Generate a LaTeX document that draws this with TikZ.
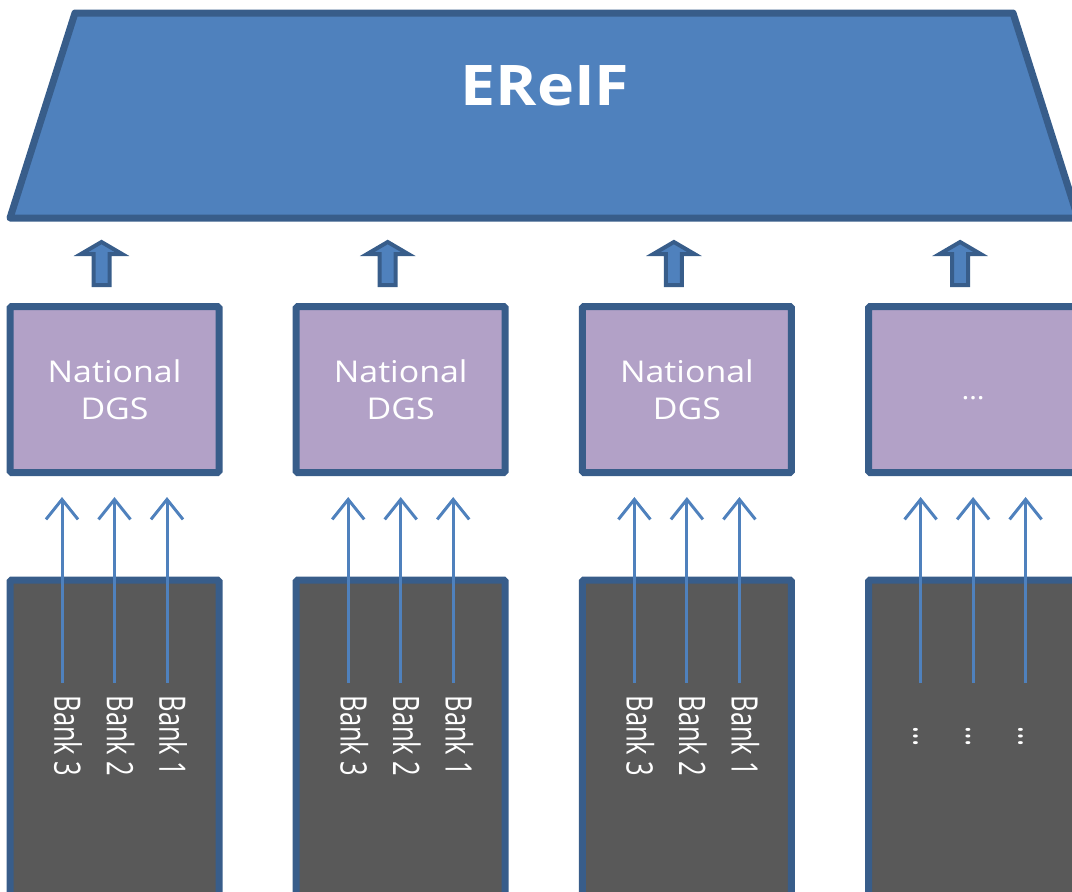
\documentclass[tikz,border=0pt]{standalone}
\usepackage{fontspec}
\setmainfont{Open Sans}
\usepackage{graphicx}
\usetikzlibrary{arrows.meta}
\definecolor{fillblue}{HTML}{4F81BD}
\definecolor{edgeblue}{HTML}{385D8A}
\definecolor{lav}{HTML}{B2A1C7}
\definecolor{bankgray}{HTML}{595959}
\newcommand{\dgstext}{\raisebox{-4pt}[\height][\depth]{\scalebox{1.13}[1]{\begin{tabular}{@{}c@{}}National\\DGS\end{tabular}}}}
\newcommand{\banktext}[1]{\scalebox{1}[1.43]{#1}}
\begin{document}
\begin{tikzpicture}[x=1pt,y=-1pt,
  trapstyle/.style={fill=fillblue,draw=edgeblue,line width=7pt,line join=round},
  dgsbox/.style={rectangle,fill=lav,draw=edgeblue,line width=7pt,minimum width=209pt,minimum height=166pt,inner sep=0pt,rounded corners=1.5pt,text=white,font=\fontsize{30}{37}\selectfont},
  bankbox/.style={rectangle,fill=bankgray,draw=edgeblue,line width=7pt,minimum width=209pt,minimum height=420pt,inner sep=0pt,rounded corners=1.5pt},
  banklbl/.style={rotate=-90,text=white,inner sep=0pt,font=\fontsize{25.5}{30}\selectfont},
  thinarrow/.style={draw=fillblue,line width=3pt,-{Straight Barb[length=20pt,width=32pt]}},
  thickarrow/.style={fill=fillblue,draw=edgeblue,line width=4pt,line join=miter}
]
\path[use as bounding box] (0,0) rectangle (1072,892);
\clip (0,0) rectangle (1072,892);

% top trapezoid
\draw[trapstyle] (75,13) -- (1013,13) -- (1078,218) -- (10,218) -- cycle;
\node[text=white,anchor=base,inner sep=0pt,font=\bfseries\fontsize{56}{60}\selectfont] (ereif) at (545,105) {\scalebox{1.12}[1]{EReIF}};

% columns
\foreach \i in {0,1,2,3}{
  \pgfmathsetmacro\cx{114.5+286.2*\i}
  % thick arrow
  \draw[thickarrow] (\cx-13,242) -- (\cx+7.5,254) -- (\cx-5,254) -- (\cx-5,285) -- (\cx-21,285) -- (\cx-21,254) -- (\cx-33.5,254) -- cycle;
  % bank box
  \node[bankbox] (bk\i) at (\cx,790) {};
  % thin arrows
  \foreach \j in {0,1,2}{
    \pgfmathsetmacro\ax{\cx-52.5+52.5*\j}
    \coordinate (s\i\j) at (\ax,683);
    \coordinate (e\i\j) at (\ax,497);
    \draw[thinarrow] (s\i\j) -- (e\i\j);
  }
}

% national boxes
\node[dgsbox] (dgs0) at (114.5,389.5) {\dgstext};
\node[dgsbox] (dgs1) at (400.7,389.5) {\dgstext};
\node[dgsbox] (dgs2) at (686.9,389.5) {\dgstext};
\node[dgsbox] (dgs3) at (973.1,389.5) {\raisebox{-9pt}[\height][\depth]{\scalebox{1.13}[1]{\fontsize{26}{30}\selectfont …}}};

% bank labels
\node[banklbl] (l00) at (62+6,736) {\banktext{Bank 3}};
\node[banklbl] (l01) at (114.5+6,736) {\banktext{Bank 2}};
\node[banklbl] (l02) at (167+6,736) {\banktext{Bank 1}};
\node[banklbl] (l10) at (348.2+6,736) {\banktext{Bank 3}};
\node[banklbl] (l11) at (400.7+6,736) {\banktext{Bank 2}};
\node[banklbl] (l12) at (453.2+6,736) {\banktext{Bank 1}};
\node[banklbl] (l20) at (634.4+6,736) {\banktext{Bank 3}};
\node[banklbl] (l21) at (686.9+6,736) {\banktext{Bank 2}};
\node[banklbl] (l22) at (739.4+6,736) {\banktext{Bank 1}};
\node[banklbl] (l30) at (920.6-5,736) {\banktext{…}};
\node[banklbl] (l31) at (973.1-5,736) {\banktext{…}};
\node[banklbl] (l32) at (1025.6-5,736) {\banktext{…}};
\end{tikzpicture}
\end{document}
